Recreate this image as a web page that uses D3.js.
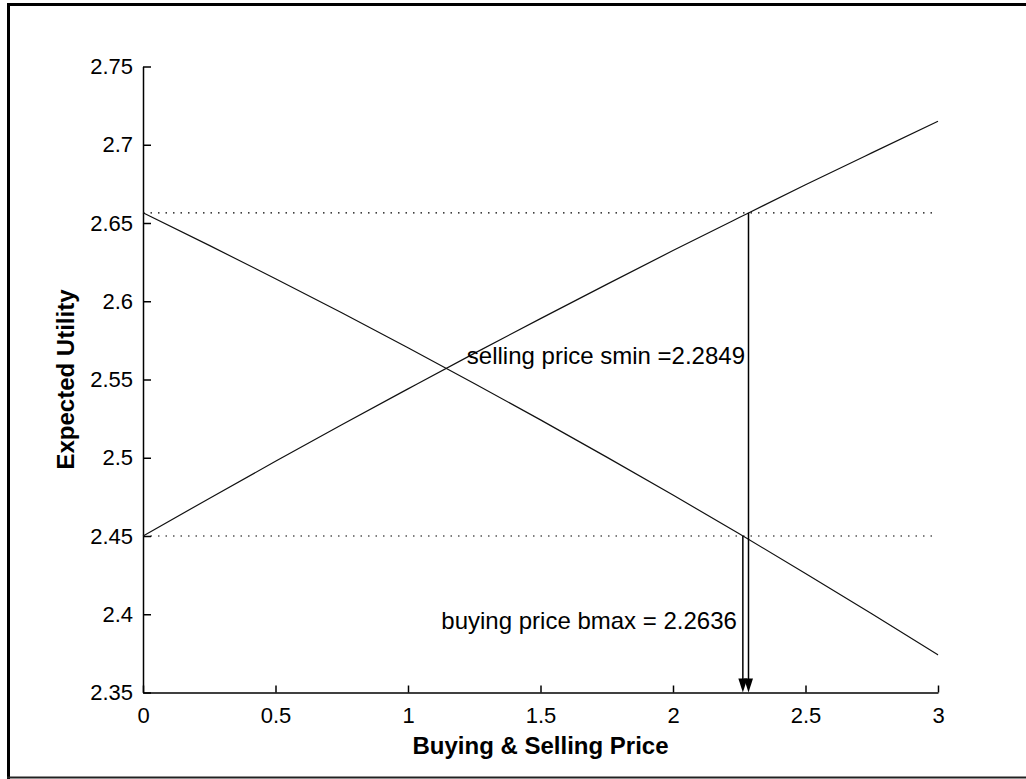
<!DOCTYPE html>
<html>
<head>
<meta charset="utf-8">
<script src="https://cdn.jsdelivr.net/npm/d3@7"></script>
<style>
  html, body { margin: 0; padding: 0; background: #fff; }
  svg { display: block; font-family: "Liberation Sans", Arial, sans-serif; }
</style>
</head>
<body>
<svg id="chart" width="1026" height="779"></svg>
<script>
// Price grid and the two expected-utility curves
const priceGrid = [0, 0.25, 0.5, 0.75, 1.0, 1.25, 1.5, 1.75, 2.0, 2.25, 2.5, 2.75, 3.0];
const utilityRising = [2.4500, 2.4740, 2.4977, 2.5211, 2.5440, 2.5667, 2.5889, 2.6108, 2.6324, 2.6535, 2.6744, 2.6948, 2.7150];
const utilityFalling = [2.6565, 2.6357, 2.6144, 2.5926, 2.5703, 2.5475, 2.5242, 2.5004, 2.4762, 2.4514, 2.4261, 2.4003, 2.3740];

// Reference utility levels (dotted) and the resulting prices
const referenceLevels = [2.6565, 2.4500];
const sellingPrice = 2.2849;
const buyingPrice = 2.2636;

// Axis ticks
const xTicks = [0, 0.5, 1, 1.5, 2, 2.5, 3];
const yTicks = [2.35, 2.4, 2.45, 2.5, 2.55, 2.6, 2.65, 2.7, 2.75];

const svg = d3.select("#chart");
const W = 1026, H = 779;
const plot = { left: 143, right: 938, top: 66.5, bottom: 692.5 };
const FONT = '"Liberation Sans", Arial, sans-serif';

const x = d3.scaleLinear().domain([0, 3]).range([plot.left, plot.right]);
const y = d3.scaleLinear().domain([2.35, 2.75]).range([plot.bottom, plot.top]);

svg.append("rect").attr("width", W).attr("height", H).attr("fill", "#fff");

// Outer frame (left, top, bottom edges)
const frame = svg.append("g").attr("stroke", "#000").attr("fill", "none");
frame.append("line").attr("x1", 8.5).attr("x2", 8.5).attr("y1", 3).attr("y2", 779).attr("stroke-width", 3);
frame.append("line").attr("x1", 7).attr("x2", W).attr("y1", 4.5).attr("y2", 4.5).attr("stroke-width", 3);
frame.append("line").attr("x1", 7).attr("x2", W).attr("y1", 777.5).attr("y2", 777.5).attr("stroke-width", 2).attr("stroke", "#222");

// Axes
const xAxis = d3.axisBottom(x).tickValues(xTicks).tickFormat(d3.format("")).tickSizeInner(-7).tickSizeOuter(0).tickPadding(14.5);
const yAxis = d3.axisLeft(y).tickValues(yTicks).tickFormat(d => String(+d.toFixed(2))).tickSizeInner(-8).tickSizeOuter(0).tickPadding(10);

const gx = svg.append("g").attr("transform", `translate(0,${plot.bottom})`).call(xAxis);
const gy = svg.append("g").attr("transform", `translate(${plot.left},0)`).call(yAxis);
[gx, gy].forEach(g => {
  g.selectAll("path.domain").attr("stroke", "#000").attr("stroke-width", 1.5);
  g.selectAll(".tick line").attr("stroke", "#000").attr("stroke-width", 1.5);
  g.selectAll(".tick text").attr("fill", "#000").style("font-size", "22px").style("font-family", FONT);
});

// Axis titles
svg.append("text")
  .attr("x", (plot.left + plot.right) / 2).attr("y", 753.5)
  .attr("text-anchor", "middle")
  .style("font-size", "24px").style("font-weight", "bold")
  .text("Buying & Selling Price");

svg.append("text")
  .attr("transform", `translate(66,${(plot.top + plot.bottom) / 2}) rotate(-90)`)
  .attr("text-anchor", "middle").attr("dy", "0.35em")
  .style("font-size", "24px").style("font-weight", "bold")
  .text("Expected Utility");

// Dotted reference levels
svg.append("g").selectAll("line").data(referenceLevels).join("line")
  .attr("x1", x(0)).attr("x2", x(3))
  .attr("y1", d => y(d)).attr("y2", d => y(d))
  .attr("stroke", "#000").attr("stroke-width", 1.2)
  .attr("stroke-dasharray", "1.5,6");

// Utility curves
const line = d3.line().x(d => x(d[0])).y(d => y(d[1])).curve(d3.curveMonotoneX);
[utilityRising, utilityFalling].forEach(series => {
  svg.append("path")
    .datum(priceGrid.map((p, i) => [p, series[i]]))
    .attr("d", line)
    .attr("fill", "none").attr("stroke", "#111").attr("stroke-width", 1.2);
});

// Arrows from each reference level down to the price axis
const drops = [
  { price: sellingPrice, level: referenceLevels[0] },
  { price: buyingPrice, level: referenceLevels[1] }
];
const headH = 14, headW = 9;
drops.forEach(d => {
  const px = x(d.price);
  svg.append("line")
    .attr("x1", px).attr("x2", px)
    .attr("y1", y(d.level)).attr("y2", plot.bottom - headH + 1)
    .attr("stroke", "#000").attr("stroke-width", 1.5);
  svg.append("path")
    .attr("d", `M${px - headW / 2},${plot.bottom - headH} L${px + headW / 2},${plot.bottom - headH} L${px},${plot.bottom} Z`)
    .attr("fill", "#000");
});

// Value annotations
svg.append("text")
  .attr("x", x(sellingPrice) - 3.5).attr("y", 363.5)
  .attr("text-anchor", "end")
  .style("font-size", "24px")
  .text("selling price smin =" + sellingPrice.toFixed(4));

svg.append("text")
  .attr("x", x(buyingPrice) - 6).attr("y", y(2.396) + 8.5)
  .attr("text-anchor", "end")
  .style("font-size", "24px")
  .text("buying price bmax = " + buyingPrice.toFixed(4));
</script>
</body>
</html>
